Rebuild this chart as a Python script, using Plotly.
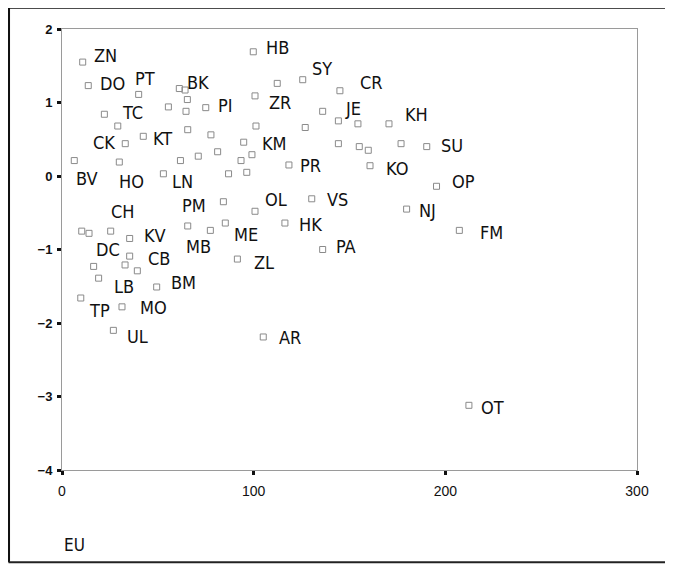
import plotly.graph_objects as go

# ---- data ----
codes = ["ZN", "DO", "PT", "BK", "", "", "", "", "PI", "TC", "", "CK", "KT", "", "",
         "BV", "HO", "", "", "LN", "HB", "SY", "", "ZR", "CR", "JE", "", "", "", "KM",
         "", "", "", "", "PR", "", "", "", "KH", "", "", "", "SU", "KO", "OP", "NJ",
         "FM", "PM", "OL", "VS", "ME", "", "HK", "PA", "ZL", "AR", "OT", "MB", "",
         "DC", "CH", "KV", "CB", "", "", "", "LB", "BM", "TP", "MO", "UL"]
eu = [10.8, 13.7, 40.0, 61.2, 64.2, 65.4, 55.5, 64.7, 75.0, 22.1, 29.1, 33.0, 42.4, 65.6, 77.7,
      6.4, 29.9, 61.8, 71.1, 52.9, 99.8, 125.6, 112.3, 100.7, 145.0, 136.0, 144.2, 101.2, 126.9, 94.8,
      144.2, 81.2, 99.1, 93.4, 118.4, 86.9, 96.4, 154.4, 170.6, 155.1, 159.8, 176.9, 190.3, 160.7, 195.4, 179.8,
      207.3, 84.2, 100.7, 130.3, 85.2, 77.4, 116.3, 136.0, 91.5, 105.0, 212.3, 65.6, 10.3,
      14.1, 25.4, 35.3, 35.3, 16.5, 32.9, 39.3, 19.1, 49.4, 9.8, 31.3, 26.8]
score = [1.55, 1.23, 1.11, 1.19, 1.17, 1.04, 0.94, 0.88, 0.93, 0.84, 0.68, 0.44, 0.54, 0.63, 0.56,
         0.21, 0.19, 0.21, 0.27, 0.03, 1.69, 1.31, 1.26, 1.09, 1.16, 0.88, 0.75, 0.68, 0.66, 0.46,
         0.44, 0.33, 0.29, 0.21, 0.15, 0.03, 0.05, 0.71, 0.71, 0.40, 0.35, 0.44, 0.40, 0.14, -0.14, -0.45,
         -0.74, -0.35, -0.48, -0.31, -0.64, -0.74, -0.64, -1.00, -1.13, -2.19, -3.12, -0.68, -0.75,
         -0.78, -0.75, -0.85, -1.09, -1.23, -1.21, -1.29, -1.39, -1.51, -1.66, -1.78, -2.10]
x_ticks = [0, 100, 200, 300]
y_ticks = [-4, -3, -2, -1, 0, 1, 2]
x_title = "EU"

# ---- label placement (style: anchor, pixel shift right, pixel shift down) ----
label_style = {
    "ZN": ("left", 10, -7), "DO": ("left", 11, -2), "PT": ("left", -5, -16),
    "BK": ("left", 7, -6), "TC": ("left", 17, -2), "PI": ("left", 11, -2),
    "CK": ("right", -9, -1), "KT": ("left", 9, 2), "BV": ("left", 1, 18),
    "HO": ("left", -1, 19), "LN": ("left", 8, 8), "HB": ("left", 12, -4),
    "SY": ("left", 8, -11), "ZR": ("left", 13, 7), "CR": ("left", 19, -8),
    "JE": ("left", 21, -3), "KH": ("left", 15, -9), "KM": ("left", 17, 1),
    "PR": ("left", 10, 1), "SU": ("left", 13, -1), "KO": ("left", 15, 3),
    "OP": ("left", 14, -5), "NJ": ("left", 11, 1), "FM": ("left", 20, 2),
    "CH": ("left", -1, -20), "KV": ("left", 13, -3), "DC": ("left", 6, 16),
    "CB": ("left", 17, 2), "LB": ("left", 14, 8), "BM": ("left", 13, -4),
    "TP": ("left", 7, 12), "MO": ("left", 17, 1), "UL": ("left", 13, 6),
    "PM": ("right", -16, 4), "MB": ("left", -3, 21), "ME": ("left", 8, 11),
    "ZL": ("left", 16, 3), "OL": ("left", 9, -12), "VS": ("left", 14, 1),
    "HK": ("left", 13, 1), "PA": ("left", 12, -3), "AR": ("left", 15, 1),
    "OT": ("left", 11, 2),
}

LABEL_FONT = dict(family="DejaVu Sans Condensed, Liberation Sans Narrow, Arial Narrow, Liberation Sans",
                  size=18, color="#111")

fig = go.Figure()
fig.add_trace(go.Scatter(
    x=eu, y=score, mode="markers",
    marker=dict(symbol="square-open", size=6, color="#8a8a8a", line=dict(width=1, color="#8a8a8a")),
    hoverinfo="text", text=codes, showlegend=False,
))

annotations = []
for c, xv, yv in zip(codes, eu, score):
    if not c:
        continue
    anchor, dx, dy = label_style[c]
    annotations.append(dict(
        x=xv, y=yv, xref="x", yref="y", text=c, showarrow=False,
        xanchor=anchor, yanchor="middle", xshift=dx, yshift=-dy,
        font=LABEL_FONT, borderpad=0,
    ))

annotations.append(dict(
    x=0.0, y=-0.170, xref="paper", yref="paper", text=x_title, showarrow=False,
    xanchor="left", yanchor="middle",
    font=dict(family="DejaVu Sans Condensed, Liberation Sans", size=17, color="#111"),
))

# page body has an 8px margin, so the figure is 8px smaller than the window
fig.update_layout(
    width=665, height=557,
    margin=dict(l=54, r=36, t=21, b=95),
    paper_bgcolor="white", plot_bgcolor="white",
    annotations=annotations,
    shapes=[
        dict(type="line", xref="paper", yref="paper", x0=-0.093, x1=-0.093, y0=-0.209, y1=1.048,
             line=dict(color="#111", width=3)),
        dict(type="line", xref="paper", yref="paper", x0=-0.093, x1=1.07, y0=1.048, y1=1.048,
             line=dict(color="#111", width=2)),
        dict(type="line", xref="paper", yref="paper", x0=-0.093, x1=1.07, y0=-0.209, y1=-0.209,
             line=dict(color="#222", width=2)),
    ],
    xaxis=dict(
        range=[0, 300], tickvals=x_ticks, showgrid=False, zeroline=False,
        showline=True, linecolor="#9a9a9a", linewidth=1, mirror=True,
        ticks="outside", ticklen=4, tickwidth=3, tickcolor="#111",
        tickfont=dict(family="Liberation Sans, Arial", size=14, color="#111"),
        ticklabelstandoff=4,
    ),
    yaxis=dict(
        range=[-4, 2], tickvals=y_ticks, showgrid=False, zeroline=False,
        showline=True, linecolor="#9a9a9a", linewidth=1, mirror=True,
        ticks="outside", ticklen=4, tickwidth=3, tickcolor="#111",
        tickfont=dict(family="Liberation Sans, Arial", size=13, color="#111", weight="bold"),
        ticklabelstandoff=2,
    ),
)

fig.write_html("out.html")
